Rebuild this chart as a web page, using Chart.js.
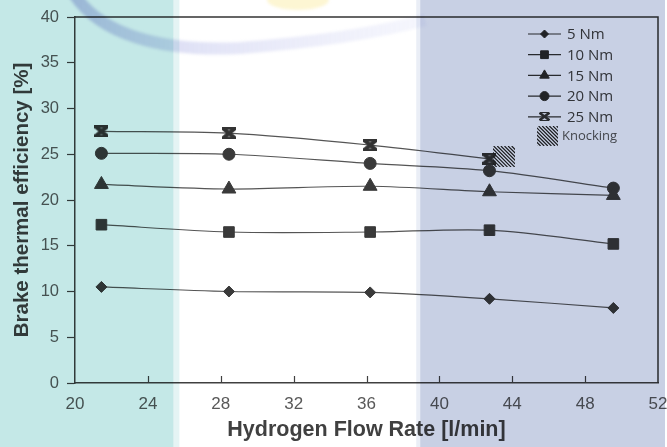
<!DOCTYPE html>
<html>
<head>
<meta charset="utf-8">
<title>Brake thermal efficiency vs hydrogen flow rate</title>
<script src="https://cdn.jsdelivr.net/npm/chart.js@4/dist/chart.umd.min.js"></script>
<style>
  html, body { margin: 0; padding: 0; background: #ffffff; }
  #wrap { width: 667px; height: 447px; }
</style>
</head>
<body>
<div id="wrap"><canvas id="c" width="667" height="447"></canvas></div>
<script>
// ---- data ----
const flowRate = [21.45, 28.45, 36.2, 42.75, 49.55];          // l/min
const torqueLabels = ['5 Nm', '10 Nm', '15 Nm', '20 Nm', '25 Nm'];
const bte5  = [10.5, 10.0, 9.9, 9.2, 8.2];
const bte10 = [17.3, 16.5, 16.5, 16.7, 15.2];
const bte15 = [21.7, 21.2, 21.5, 20.9, 20.5];
const bte20 = [25.1, 25.0, 24.0, 23.2, 21.3];
const bte25 = [27.5, 27.3, 26.0, 24.5];                        // knocking beyond this point
const xTicks = [20, 24, 28, 32, 36, 40, 44, 48, 52];
const yTicks = [0, 5, 10, 15, 20, 25, 30, 35, 40];
const knockingFlow = [42.95, 44.15];
const knockingBte  = [23.6, 25.9];
const knockingLabel = 'Knocking';

// ---- background bands (flow-rate units) ----
const tealEnd = 25.4;
const lavenderStart = 38.95;

// bow-tie marker for the 25 Nm series
function makeBowtie(w, h, lw, bar) {
  const cv = document.createElement('canvas');
  cv.width = w; cv.height = h;
  const g = cv.getContext('2d');
  g.fillStyle = '#333';
  g.strokeStyle = '#333';
  g.lineWidth = lw;
  g.lineCap = 'square';
  g.beginPath();
  g.rect(0, 0, w, h);
  g.clip();
  g.beginPath();
  g.moveTo(1.5, 1.5); g.lineTo(w - 1.5, h - 1.5);
  g.moveTo(w - 1.5, 1.5); g.lineTo(1.5, h - 1.5);
  g.stroke();
  g.fillRect(1, 0, w - 2, h * bar);
  g.fillRect(1, h - h * bar, w - 2, h * bar);
  return cv;
}
const bowtie = makeBowtie(14, 12, 4, 0.22);
const bowtieSmall = makeBowtie(11, 9, 2.6, 0.12);

const seriesValues = [bte5, bte10, bte15, bte20, bte25];
const markerStyles = [
  { style: 'rectRot',  r: 5.5, lr: 4 },
  { style: 'rect',     r: 7.5, lr: 5.5 },
  { style: 'triangle', r: 8,   lr: 5.5 },
  { style: 'circle',   r: 6,   lr: 4.5 },
  { style: bowtie,     r: 7,   lr: 4, small: bowtieSmall }
];

const datasets = seriesValues.map((vals, i) => ({
  label: torqueLabels[i],
  data: vals.map((v, k) => ({ x: flowRate[k], y: v })),
  showLine: true,
  tension: 0.3,
  borderColor: '#555555',
  borderWidth: 1.2,
  pointStyle: markerStyles[i].style,
  pointRadius: markerStyles[i].r,
  pointHoverRadius: markerStyles[i].r,
  pointBackgroundColor: '#3a3a3a',
  pointBorderColor: '#3a3a3a',
  pointBorderWidth: 1
}));

function hatch(ctx, x0, y0, x1, y1) {
  ctx.save();
  ctx.beginPath();
  ctx.rect(x0, y0, x1 - x0, y1 - y0);
  ctx.clip();
  ctx.strokeStyle = '#222';
  ctx.lineWidth = 1.2;
  const h = y1 - y0;
  ctx.beginPath();
  for (let k = x0 - h; k < x1; k += 3.6) {
    ctx.moveTo(k, y0);
    ctx.lineTo(k + h, y1);
  }
  ctx.stroke();
  ctx.restore();
}

const decor = {
  id: 'decor',
  afterDraw(chart) {
    const ctx = chart.ctx;
    const xs = chart.scales.x, ys = chart.scales.y;
    const a = chart.chartArea;

    // frame (top and right)
    ctx.save();
    ctx.strokeStyle = '#333';
    ctx.lineWidth = 1.5;
    ctx.beginPath();
    ctx.moveTo(a.left, a.top); ctx.lineTo(a.right, a.top); ctx.lineTo(a.right, a.bottom);
    ctx.stroke();

    // inward x tick marks
    ctx.strokeStyle = '#404040';
    ctx.lineWidth = 1.2;
    ctx.beginPath();
    xTicks.slice(1, -1).forEach(v => {
      const px = Math.round(xs.getPixelForValue(v)) + 0.5;
      ctx.moveTo(px, a.bottom); ctx.lineTo(px, a.bottom - 7);
    });
    ctx.stroke();
    ctx.restore();

    // knocking zone
    hatch(ctx, xs.getPixelForValue(knockingFlow[0]), ys.getPixelForValue(knockingBte[1]),
               xs.getPixelForValue(knockingFlow[1]), ys.getPixelForValue(knockingBte[0]));

    // legend
    ctx.save();
    const lx0 = 528, lx1 = 561, tx = 567;
    let ly = 34;
    chart.data.datasets.forEach((ds, i) => {
      ctx.strokeStyle = '#333';
      ctx.lineWidth = 1.2;
      ctx.beginPath(); ctx.moveTo(lx0, ly); ctx.lineTo(lx1, ly); ctx.stroke();
      const m = markerStyles[i];
      ctx.fillStyle = '#2a2a2a';
      ctx.strokeStyle = '#2a2a2a';
      ctx.lineWidth = 1;
      if (m.small) {
        ctx.drawImage(m.small, Math.round((lx0 + lx1) / 2 - m.small.width / 2),
                      Math.round(ly - m.small.height / 2));
      } else {
        Chart.helpers.drawPoint(ctx, { pointStyle: m.style, radius: m.lr, rotation: 0, borderWidth: 1 },
                                (lx0 + lx1) / 2, ly);
      }
      ctx.fillStyle = '#404040';
      ctx.font = '15px "Open Sans"';
      ctx.textBaseline = 'middle';
      ctx.textAlign = 'left';
      ctx.fillText(ds.label, tx, ly + 1);
      ly += 20.7;
    });
    hatch(ctx, 537, 126, 558, 146);
    ctx.fillStyle = '#555';
    ctx.font = '13px "Open Sans"';
    ctx.textBaseline = 'middle';
    ctx.fillText(knockingLabel, 562, 136);
    ctx.restore();

    // coloured bands and faint emblem, multiplied over the whole figure
    const W = chart.width, H = chart.height;
    const t = xs.getPixelForValue(tealEnd), l = xs.getPixelForValue(lavenderStart);
    ctx.save();
    ctx.globalCompositeOperation = 'multiply';
    ctx.fillStyle = '#c4e8e7'; ctx.fillRect(0, 0, t, H);
    ctx.fillStyle = '#e5f4f4'; ctx.fillRect(t, 0, 6, H);
    ctx.fillStyle = '#eaeef6'; ctx.fillRect(l - 4, 0, 4, H);
    ctx.fillStyle = '#c8d0e4'; ctx.fillRect(l, 0, W - 2 - l, H);

    ctx.filter = 'blur(1.5px)';
    const grad = ctx.createLinearGradient(70, 0, 430, 0);
    grad.addColorStop(0, 'rgba(178,178,228,0.7)');
    grad.addColorStop(0.35, 'rgba(205,208,240,0.6)');
    grad.addColorStop(1, 'rgba(232,234,250,0.4)');
    ctx.strokeStyle = grad;
    ctx.lineWidth = 12;
    ctx.beginPath();
    ctx.moveTo(74, -6);
    ctx.bezierCurveTo(100, 34, 160, 52, 240, 48);
    ctx.quadraticCurveTo(350, 40, 425, 20);
    ctx.stroke();
    ctx.fillStyle = 'rgba(252,238,175,0.55)';
    ctx.beginPath();
    ctx.ellipse(298, 0, 31, 10, 0, 0, Math.PI * 2);
    ctx.fill();
    ctx.restore();
  }
};

const tickFontX = { family: '"Liberation Sans", Arial, sans-serif', size: 17 };
const tickFontY = { family: '"Liberation Sans", Arial, sans-serif', size: 16.5 };

new Chart(document.getElementById('c'), {
  type: 'scatter',
  data: { datasets },
  options: {
    responsive: false,
    devicePixelRatio: 1,
    animation: false,
    events: [],
    layout: { padding: { top: 17, right: 6, left: 0, bottom: 0 } },
    plugins: { legend: { display: false }, tooltip: { enabled: false } },
    scales: {
      x: {
        type: 'linear',
        min: xTicks[0], max: xTicks[xTicks.length - 1],
        afterBuildTicks: s => { s.ticks = xTicks.map(v => ({ value: v })); },
        afterFit: s => { s.height = 64; s.paddingLeft = 0; s.paddingRight = 0; },
        ticks: { color: '#595959', font: tickFontX, padding: 11, maxRotation: 0 },
        grid: { drawOnChartArea: false, drawTicks: false },
        border: { display: true, color: '#404040', width: 1.5 },
        title: { display: true, text: 'Hydrogen Flow Rate [l/min]', color: '#404040',
                 font: { family: '"Liberation Sans", Arial, sans-serif', size: 21.5, weight: 'bold' },
                 padding: { top: 0, bottom: 4 } }
      },
      y: {
        type: 'linear',
        min: yTicks[0], max: yTicks[yTicks.length - 1],
        afterBuildTicks: s => { s.ticks = yTicks.map(v => ({ value: v })); },
        afterFit: s => { s.width = 75; s.paddingTop = 0; s.paddingBottom = 0; },
        ticks: { color: '#595959', font: tickFontY, padding: 8 },
        grid: { drawOnChartArea: false, drawTicks: true, tickLength: 8, color: '#404040', tickWidth: 1.2 },
        border: { display: true, color: '#404040', width: 1.5 },
        title: { display: true, text: 'Brake thermal efficiency [%]', color: '#404040',
                 font: { family: '"Liberation Sans", Arial, sans-serif', size: 20.5, weight: 'bold' },
                 padding: { top: 10, bottom: 0 } }
      }
    }
  },
  plugins: [decor]
});
</script>
</body>
</html>
